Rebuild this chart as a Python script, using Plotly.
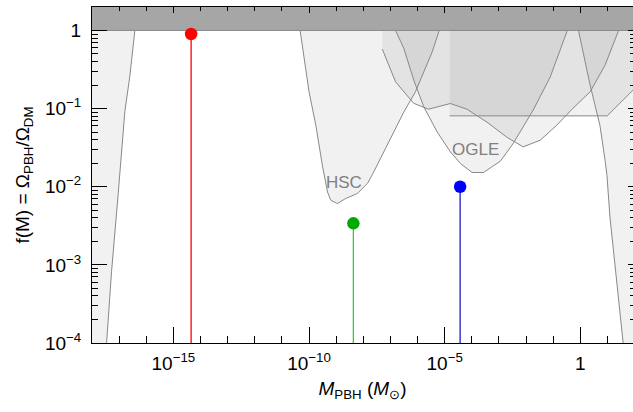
import plotly.graph_objects as go

# ---------------- data (log10 M [Msun], log10 f) ----------------
# left constraint boundary (fill to the left)
left_lm = [-16.36, -16.42, -16.60, -16.79, -17.03, -17.28, -17.46, -17.50]
left_lf = [0.50, 0.00, -0.57, -1.04, -2.07, -3.09, -3.99, -4.50]

# HSC constraint (fill above the curve)
hsc_lm = [-10.40, -10.33, -10.18, -10.00, -9.75, -9.51, -9.32, -9.20, -8.96, -8.65,
          -8.22, -7.85, -7.66, -7.12, -6.51, -6.08, -5.77, -5.46, -5.22, -5.15]
hsc_lf = [0.50, 0.00, -0.355, -0.786, -1.213, -1.725, -2.067, -2.173, -2.215, -2.151,
          -2.087, -1.959, -1.840, -1.469, -1.046, -0.786, -0.530, -0.274, -0.018, 0.50]

# OGLE constraint
ogle_lm = [-6.86, -6.81, -6.51, -6.14, -5.77, -5.28, -4.79, -4.42, -3.99, -3.57,
           -2.95, -2.47, -1.74, -1.11, -0.50, -0.45]
ogle_lf = [0.50, 0.00, -0.227, -0.636, -0.978, -1.298, -1.554, -1.703, -1.818, -1.818,
           -1.673, -1.443, -1.020, -0.594, -0.018, 0.50]

# second microlensing-type constraint
eros_lm = [-7.30, -6.81, -6.15, -5.60, -4.79, -4.18, -3.44, -2.71, -2.11,
           -1.48, -0.87, -0.27, 0.36, 0.91, 1.39, 1.45]
eros_lf = [-0.239, -0.658, -0.931, -1.008, -0.935, -1.008, -1.174, -1.366, -1.490,
           -1.405, -1.213, -0.995, -0.786, -0.444, -0.018, 0.50]

# flat-topped constraint
flat_lm = [-4.82, 0.99, 1.94, 2.50]
flat_lf = [-1.093, -1.093, -0.764, -0.570]

# right constraint boundary (fill to the right)
right_lm = [-0.10, -0.07, 0.36, 0.72, 0.91, 0.98, 1.09, 1.28, 1.46, 1.58, 1.62]
right_lf = [0.50, 0.00, -0.700, -1.213, -1.661, -1.853, -2.387, -3.027, -3.581, -4.008, -4.50]

# PBH points
pbh_M = [4.5e-15, 4.3e-9, 3.7e-5]
pbh_f = [0.9, 3.4e-3, 1.0e-2]
pbh_marker_colors = ["#ff0000", "#00a800", "#0000ff"]
pbh_line_colors = ["#ff0000", "#33cc33", "#1c1cc0"]

# labels
region_labels = ["HSC", "OGLE"]
label_lm = [-8.71, -3.85]
label_lf = [-1.94, -1.526]

x_tickvals = [1e-15, 1e-10, 1e-5, 1]
x_ticktext = ["10<sup>−15</sup>", "10<sup>−10</sup>", "10<sup>−5</sup>", "1"]
y_tickvals = [1e-4, 1e-3, 1e-2, 1e-1, 1]
y_ticktext = ["10<sup>−4</sup>", "10<sup>−3</sup>", "10<sup>−2</sup>", "10<sup>−1</sup>", "1"]

XR = [-18, 1.94]
YR = [-4, 0.3]

# ---------------- figure ----------------
def p10(v):
    return [10 ** a for a in v]

FILL = "rgba(0,0,0,0.055)"
EDGE = dict(color="#888888", width=1)

fig = go.Figure()

def region(xs, ys):
    fig.add_trace(go.Scatter(x=p10(xs), y=p10(ys), mode="lines", fill="toself",
                             fillcolor=FILL, line=dict(width=0), hoverinfo="skip",
                             showlegend=False))

def outline(xs, ys):
    fig.add_trace(go.Scatter(x=p10(xs), y=p10(ys), mode="lines", line=EDGE,
                             hoverinfo="skip", showlegend=False))

# fills
region(left_lm + [-18.5, -18.5], left_lf + [-4.5, 0.5])
region(hsc_lm, hsc_lf)
region(ogle_lm, ogle_lf)
region([eros_lm[0]] + eros_lm, [0.5] + eros_lf)
region([flat_lm[0]] + flat_lm + [2.5], [0.5] + flat_lf + [0.5])
region(right_lm + [2.5, 2.5], right_lf + [-4.5, 0.5])

# outlines
outline(left_lm, left_lf)
outline(hsc_lm, hsc_lf)
outline(ogle_lm, ogle_lf)
outline(eros_lm, eros_lf)
outline(flat_lm, flat_lf)
outline(right_lm, right_lf)

# excluded band f > 1
fig.add_trace(go.Scatter(x=[1e-19, 1e3, 1e3, 1e-19, 1e-19], y=[1, 1, 10, 10, 1],
                         mode="lines", fill="toself", fillcolor="#a6a6a6",
                         line=dict(color="#8a8a8a", width=1), hoverinfo="skip",
                         showlegend=False))

# stems and markers
for M, f, mc, lc in zip(pbh_M, pbh_f, pbh_marker_colors, pbh_line_colors):
    fig.add_trace(go.Scatter(x=[M, M], y=[f, 1e-5], mode="lines",
                             line=dict(color=lc, width=1.3), hoverinfo="skip",
                             showlegend=False))
for M, f, mc in zip(pbh_M, pbh_f, pbh_marker_colors):
    fig.add_trace(go.Scatter(x=[M], y=[f], mode="markers",
                             marker=dict(color=mc, size=12.5, line=dict(width=0)),
                             showlegend=False))

# dummy trace for the overlay (top/right tick) axes
fig.add_trace(go.Scatter(x=[1e-10], y=[1e-2], xaxis="x2", yaxis="y2", mode="markers",
                         marker=dict(opacity=0), hoverinfo="skip", showlegend=False))

for t, lx, ly in zip(region_labels, label_lm, label_lf):
    fig.add_annotation(x=lx, y=ly, xref="x", yref="y", text=t, showarrow=False,
                       font=dict(size=17, color="#808080",
                                 family="Liberation Sans, Arial, sans-serif"))

x_minor = [10.0 ** k for k in range(-18, 3) if k % 5 != 0]
y_minor = [m * 10.0 ** k for k in range(-5, 1) for m in range(2, 10)]

FONT = dict(family="Liberation Sans, Arial, sans-serif", size=19, color="black")

fig.update_layout(
    width=633, height=412,
    margin=dict(l=92, r=0, t=7, b=69, autoexpand=False),
    paper_bgcolor="white", plot_bgcolor="white",
    font=FONT,
    showlegend=False,
    xaxis=dict(type="log", range=XR, showgrid=False, zeroline=False, automargin=False,
               showline=True, linecolor="black", linewidth=1, mirror=True,
               ticks="inside", ticklen=16, tickwidth=1, tickcolor="black",
               tickvals=x_tickvals, ticktext=x_ticktext, tickfont=FONT,
               ticklabelstandoff=3,
               minor=dict(tickvals=x_minor, ticks="inside", ticklen=7,
                          tickcolor="black", tickwidth=1, showgrid=False),
               title=dict(text="<i>M</i><sub>PBH</sub> (<i>M</i><sub>⊙</sub>)",
                          font=FONT, standoff=8)),
    yaxis=dict(type="log", range=YR, showgrid=False, zeroline=False, automargin=False,
               showline=True, linecolor="black", linewidth=1, mirror=False,
               ticks="inside", ticklen=15, tickwidth=1, tickcolor="black",
               tickvals=y_tickvals, ticktext=y_ticktext, tickfont=FONT,
               ticklabelstandoff=6,
               minor=dict(tickvals=y_minor, ticks="inside", ticklen=6,
                          tickcolor="black", tickwidth=1, showgrid=False),
               title=dict(text="f(M) = Ω<sub>PBH</sub>/Ω<sub>DM</sub>",
                          font=FONT, standoff=10)),
    xaxis2=dict(type="log", range=XR, overlaying="x", side="top", anchor="y",
                showgrid=False, zeroline=False, showline=False, automargin=False,
                ticks="inside", ticklen=6, tickcolor="black", tickwidth=1,
                tickvals=x_tickvals, showticklabels=False,
                minor=dict(tickvals=x_minor, ticks="inside", ticklen=4,
                           tickcolor="black", tickwidth=1, showgrid=False)),
    yaxis2=dict(type="log", range=YR, overlaying="y", side="right", anchor="x",
                showgrid=False, zeroline=False, showline=False, automargin=False,
                ticks="inside", ticklen=5, tickcolor="black", tickwidth=1,
                tickvals=y_tickvals, showticklabels=False,
                minor=dict(tickvals=y_minor, ticks="inside", ticklen=3,
                           tickcolor="black", tickwidth=1, showgrid=False)),
)

fig.write_html("out.html", config={"displayModeBar": False},
               post_script="document.body.style.margin='0';document.body.style.overflow='hidden';")
